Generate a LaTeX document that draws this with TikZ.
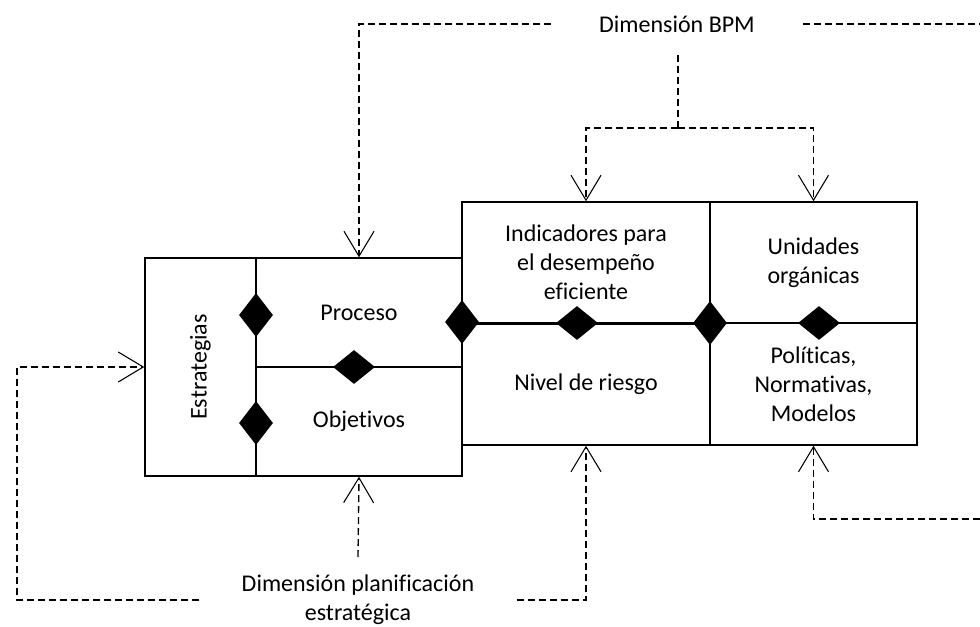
\documentclass[tikz,border=0pt]{standalone}
\usepackage{fontspec}
\setmainfont{Carlito}[Ligatures={NoCommon}]
\usetikzlibrary{arrows.meta,shapes.geometric}
\begin{document}
\begin{tikzpicture}[x=0.75pt,y=-0.75pt,
  txt/.style={font=\fontsize{18}{21.75}\selectfont,align=center},
  cell/.style={txt,draw,line width=1.1pt,inner sep=0pt},
  vdia/.style={diamond,fill=black,draw=none,inner sep=0pt,minimum width=25.5pt,minimum height=33pt},
  hdia/.style={diamond,fill=black,draw=none,inner sep=0pt,minimum width=31.5pt,minimum height=25.5pt},
  dline/.style={line width=1pt,dash pattern=on 5.25pt off 3pt},
  conn/.style={dline,-{Straight Barb[length=18.75pt,width=22.5pt,line width=0.8pt]}},
  boldline/.style={line width=2.4pt}
]
\useasboundingbox (0,0) rectangle (980,627);

% cells
\node[cell,minimum width=83.25pt,minimum height=163.5pt] (estr) at (200.5,367) {\rotatebox{90}{Estrategias}};
\node[cell,minimum width=154.5pt,minimum height=81.75pt] (proc) at (359,312.5) {Proceso};
\node[cell,minimum width=154.5pt,minimum height=81.75pt] (obj) at (359,421.5) {Objetivos};
\node[cell,minimum width=186pt,minimum height=90.75pt] (ind) at (586,262.5) {Indicadores para\\el desempeño\\eficiente};
\node[cell,minimum width=186pt,minimum height=91.5pt] (niv) at (586,384) {Nivel de riesgo};
\node[cell,minimum width=155.25pt,minimum height=90.75pt] (uni) at (813.5,262.5) {Unidades\\orgánicas};
\node[cell,minimum width=155.25pt,minimum height=91.5pt] (pol) at (813.5,384) {Políticas,\\Normativas,\\Modelos};

% thick separator
\draw[boldline] (ind.south west) -- (ind.south east);

% diamonds
\node[vdia] (d1) at (256,315) {};
\node[vdia] (d2) at (256,423) {};
\node[hdia] (d3) at (354,367) {};
\node[vdia] (d4) at (462,322) {};
\node[hdia] (d5) at (577,323) {};
\node[vdia] (d6) at (710,323) {};
\node[hdia] (d7) at (819,323) {};

% dimension labels
\node[txt,inner xsep=36pt,inner ysep=0pt] (bpm) at (677,24) {Dimensión BPM};
\node[txt,inner xsep=31.5pt,inner ysep=0pt] (plan) at (358,600) {Dimensión planificación\\estratégica};

% free ends
\coordinate (redge) at (980,24);
\coordinate (bs) at (678,55);
\coordinate (bj) at (678,128);
\coordinate (ps) at (358,557);
\coordinate (lc) at (17,367);
\coordinate (rb) at (980,519);

% connectors
\draw[conn] (bpm.west) -| (proc.north);
\draw[dline] (bpm.east) -- (redge);
\draw[dline] (bs) -- (bj);
\draw[conn] (bj) -| (ind.north);
\draw[conn] (bj) -| (uni.north);
\draw[conn] (ps) -- (obj.south);
\draw[conn] (plan.west) -| (lc) -- (estr.west);
\draw[conn] (plan.east) -| (niv.south);
\draw[conn] (rb) -| (pol.south);
\end{tikzpicture}
\end{document}
